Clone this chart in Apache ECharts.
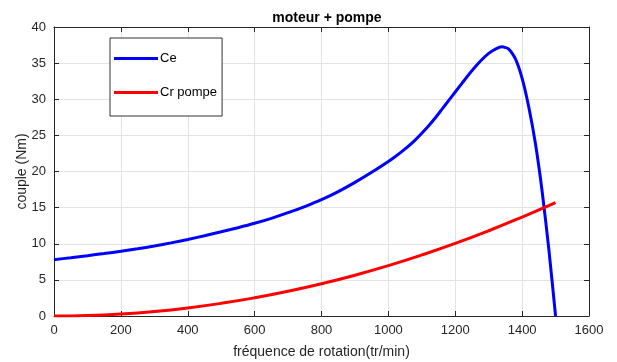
<!DOCTYPE html>
<html>
<head>
  <meta charset="utf-8">
  <title>moteur + pompe</title>
  <script src="https://cdn.jsdelivr.net/npm/echarts@6/dist/echarts.min.js"></script>
  <style>
    html, body { margin: 0; padding: 0; background: #ffffff; }
    #chart { width: 617px; height: 362px; }
  </style>
</head>
<body>
<div id="chart"></div>
<script>
  // vitesse (tr/min) et couples
  var vitesseCe = [0, 50, 100, 150, 200, 250, 300, 350, 400, 450, 500, 550, 600, 650, 700, 750, 800, 850, 900, 950,
                   1000, 1020, 1040, 1060, 1080, 1100, 1120, 1140, 1160, 1180, 1200, 1220, 1240, 1260, 1280, 1300,
                   1320, 1340, 1360, 1380, 1400, 1420, 1440, 1460, 1480, 1500];
  var coupleCe  = [7.8, 8.07, 8.35, 8.65, 8.96, 9.3, 9.68, 10.12, 10.6, 11.1, 11.65, 12.22, 12.83, 13.52, 14.3, 15.15, 16.1, 17.22, 18.5, 19.9,
                   21.4, 22.05, 22.75, 23.5, 24.35, 25.3, 26.3, 27.4, 28.6, 29.8, 31.0, 32.2, 33.4, 34.5, 35.5, 36.35,
                   36.95, 37.25, 36.95, 35.6, 32.9, 28.9, 23.8, 17.2, 9.2, 0];
  var vitesseCr = [0, 100, 200, 300, 400, 500, 600, 700, 800, 900, 1000, 1100, 1200, 1300, 1400, 1500];
  var couplePompe = [0, 0.07, 0.28, 0.63, 1.12, 1.75, 2.52, 3.42, 4.47, 5.65, 6.98, 8.45, 10.05, 11.8, 13.7, 15.7];
  var xTicks = [0, 200, 400, 600, 800, 1000, 1200, 1400, 1600];
  var yTicks = [0, 5, 10, 15, 20, 25, 30, 35, 40];

  function pairs(xs, ys) {
    var out = [];
    for (var i = 0; i < xs.length; i++) out.push([xs[i], ys[i]]);
    return out;
  }

  var chart = echarts.init(document.getElementById('chart'));
  var font = 'Liberation Sans, Arial, sans-serif';
  var axisCol = '#262626';

  chart.setOption({
    animation: false,
    backgroundColor: '#ffffff',
    title: {
      text: 'moteur + pompe',
      left: 322,
      textAlign: 'center',
      top: 6,
      textStyle: { fontFamily: font, fontSize: 14, fontWeight: 'bold', color: '#000' }
    },
    legend: {
      left: 110,
      top: 38,
      orient: 'vertical',
      itemGap: 21,
      itemWidth: 44,
      itemHeight: 3,
      padding: [14, 5, 17, 4],
      borderColor: '#333',
      borderWidth: 1,
      backgroundColor: '#fff',
      icon: 'rect',
      textStyle: { fontFamily: font, fontSize: 13, color: '#000', padding: [0, 0, 0, -3] },
      data: ['Ce', 'Cr pompe']
    },
    grid: { left: 54, right: 28, top: 27, bottom: 46, outerBoundsMode: 'none' },
    xAxis: [{
      type: 'value',
      min: 0, max: 1600, interval: 200,
      name: 'fréquence de rotation(tr/min)',
      nameLocation: 'middle',
      nameGap: 29,
      nameMoveOverlap: false,
      nameTextStyle: { fontFamily: font, fontSize: 14, color: axisCol },
      axisLine: { lineStyle: { color: axisCol } },
      axisTick: { inside: true, length: 5, lineStyle: { color: axisCol } },
      axisLabel: {
        fontFamily: font, fontSize: 13, color: axisCol, margin: 8,
        formatter: function (v) { return xTicks.indexOf(v) >= 0 ? String(v) : ''; }
      },
      splitLine: { show: true, lineStyle: { color: '#e3e3e3' } }
    }, {
      type: 'value',
      position: 'top',
      min: 0, max: 1600, interval: 200,
      axisLine: { show: true, onZero: false, lineStyle: { color: axisCol } },
      axisTick: { inside: true, length: 5, lineStyle: { color: axisCol } },
      axisLabel: { show: false },
      splitLine: { show: false }
    }],
    yAxis: [{
      type: 'value',
      min: 0, max: 40, interval: 5,
      name: 'couple (Nm)',
      nameLocation: 'middle',
      nameGap: 25,
      nameMoveOverlap: false,
      nameTextStyle: { fontFamily: font, fontSize: 14, color: axisCol },
      axisLine: { show: true, lineStyle: { color: axisCol } },
      axisTick: { show: true, inside: true, length: 5, lineStyle: { color: axisCol } },
      axisLabel: {
        fontFamily: font, fontSize: 13, color: axisCol, margin: 8,
        formatter: function (v) { return yTicks.indexOf(v) >= 0 ? String(v) : ''; }
      },
      splitLine: { show: true, lineStyle: { color: '#e3e3e3' } }
    }, {
      type: 'value',
      position: 'right',
      min: 0, max: 40, interval: 5,
      axisLine: { show: true, onZero: false, lineStyle: { color: axisCol } },
      axisTick: { show: true, inside: true, length: 5, lineStyle: { color: axisCol } },
      axisLabel: { show: false },
      splitLine: { show: false }
    }],
    series: [{
      name: 'Ce',
      type: 'line',
      data: pairs(vitesseCe, coupleCe),
      smooth: 0.2,
      showSymbol: false,
      lineStyle: { color: '#0000ff', width: 3 },
      itemStyle: { color: '#0000ff' }
    }, {
      name: 'Cr pompe',
      type: 'line',
      data: pairs(vitesseCr, couplePompe),
      smooth: true,
      showSymbol: false,
      lineStyle: { color: '#ff0000', width: 3 },
      itemStyle: { color: '#ff0000' }
    }]
  });
</script>
</body>
</html>
